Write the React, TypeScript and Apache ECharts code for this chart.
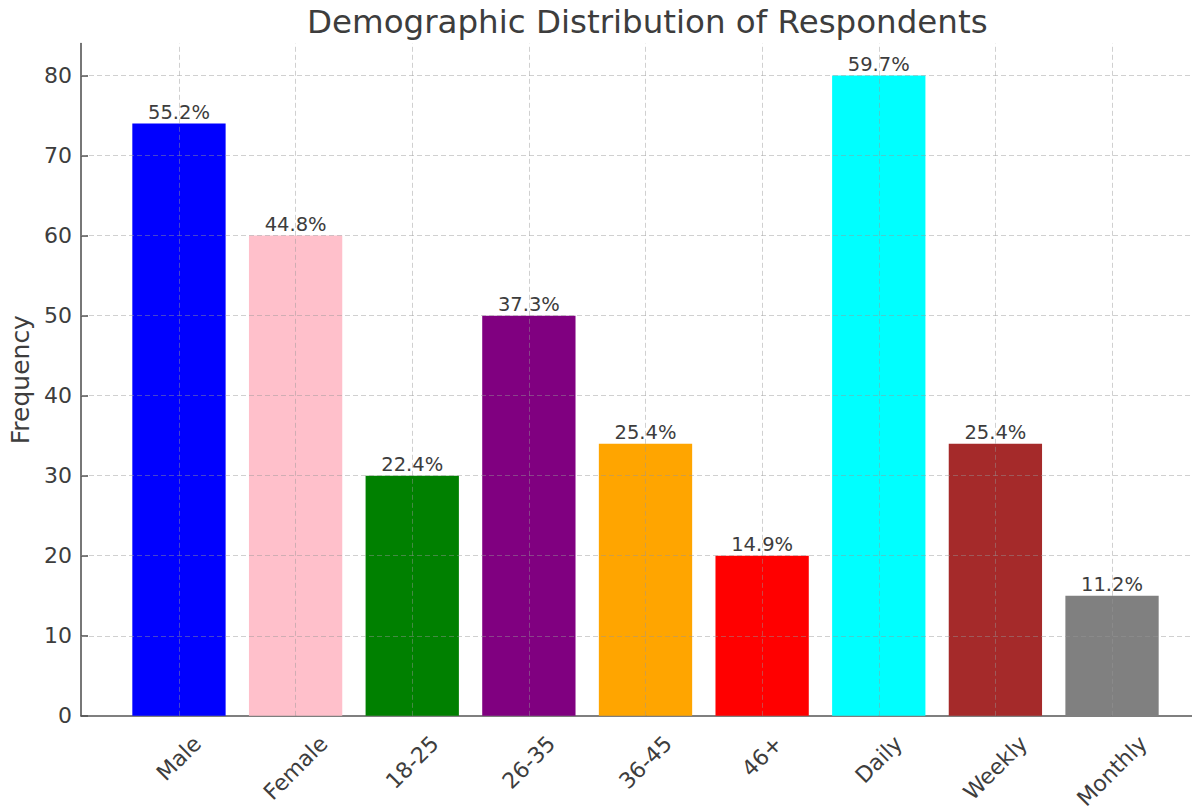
import React, { useEffect, useRef } from "react";
import * as echarts from "echarts";

const categories = ["Male", "Female", "18-25", "26-35", "36-45", "46+", "Daily", "Weekly", "Monthly"];
const frequencies = [74, 60, 30, 50, 34, 20, 80, 34, 15];
const percentLabels = ["55.2%", "44.8%", "22.4%", "37.3%", "25.4%", "14.9%", "59.7%", "25.4%", "11.2%"];
const barColors = ["#0000ff", "#ffc0cb", "#008000", "#800080", "#ffa500", "#ff0000", "#00ffff", "#a52a2a", "#808080"];
const yTicks = [0, 10, 20, 30, 40, 50, 60, 70, 80];

const FONT = "'DejaVu Sans', sans-serif";
const TEXT = "#3d3d3d";
const AXIS = "#555555";
const GRID = "rgba(150,150,150,0.45)";

function measure(text: string, size: number): number {
  const c = document.createElement("canvas").getContext("2d");
  if (!c) return text.length * size * 0.6;
  c.font = `${size}px ${FONT}`;
  return c.measureText(text).width;
}

export default function App() {
  const ref = useRef<HTMLDivElement>(null);
  useEffect(() => {
    if (!ref.current) return;
    const chart = echarts.init(ref.current, undefined, { renderer: "svg" });
    const idx = categories.map((_, i) => i);
    const xFont = 22;
    const rich: Record<string, any> = {};
    categories.forEach((c, i) => {
      const L = measure(c, xFont);
      rich["p" + i] = {
        fontSize: xFont,
        fontFamily: FONT,
        color: TEXT,
        padding: [L * 0.5, L * 0.5, 0, 0],
      };
    });
    const gridLines = [
      ...idx.map((i) => ({ xAxis: i })),
      ...yTicks.filter((v) => v > 0).map((v) => ({ yAxis: v })),
    ];
    chart.setOption({
      animation: false,
      textStyle: { fontFamily: FONT },
      title: {
        text: "Demographic Distribution of Respondents",
        left: 302,
        top: 0,
        textStyle: { fontSize: 32.5, fontWeight: "normal", color: TEXT, fontFamily: FONT },
      },
      grid: { left: 81, right: 0, top: 43.5, bottom: 95, containLabel: false },
      xAxis: {
        type: "value",
        min: -0.84,
        max: 8.84,
        axisLine: { show: true, onZero: false, lineStyle: { color: AXIS, width: 1.6 } },
        axisTick: { show: true, inside: true, length: 7, customValues: idx, lineStyle: { color: AXIS, width: 1.6 } },
        axisLabel: {
          customValues: idx,
          rotate: 45,
          align: "center",
          verticalAlign: "middle",
          margin: 24,
          fontSize: xFont,
          color: TEXT,
          fontFamily: FONT,
          formatter: (v: number) => `{p${v}|${categories[v]}}`,
          rich,
        },
        splitLine: { show: false },
      },
      yAxis: {
        type: "value",
        min: 0,
        max: 84,
        name: "Frequency",
        nameLocation: "middle",
        nameGap: 46,
        nameTextStyle: { fontSize: 25, color: TEXT, fontFamily: FONT },
        axisLine: { show: true, onZero: false, lineStyle: { color: AXIS, width: 1.6 } },
        axisTick: { show: true, inside: true, length: 7, customValues: yTicks, lineStyle: { color: AXIS, width: 1.6 } },
        axisLabel: { customValues: yTicks, fontSize: 22, color: TEXT, margin: 9, fontFamily: FONT },
        splitLine: { show: false },
      },
      series: [
        {
          type: "bar",
          barWidth: "80%",
          data: frequencies.map((v, i) => ({
            value: [i, v],
            itemStyle: { color: barColors[i] },
          })),
          label: {
            show: true,
            position: "top",
            distance: 1,
            fontSize: 19.5,
            color: TEXT,
            fontFamily: FONT,
            formatter: (p: any) => percentLabels[p.dataIndex],
          },
          markLine: {
            silent: true,
            symbol: ["none", "none"],
            label: { show: false },
            lineStyle: { color: GRID, type: [5, 3], width: 1 },
            data: gridLines,
          },
        },
      ],
    });
    return () => chart.dispose();
  }, []);
  return (
    <div style={{ width: 1192, height: 812, position: "absolute", left: 0, top: 0, overflow: "hidden" }}>
      <div ref={ref} style={{ width: 1210, height: 812 }} />
    </div>
  );
}
